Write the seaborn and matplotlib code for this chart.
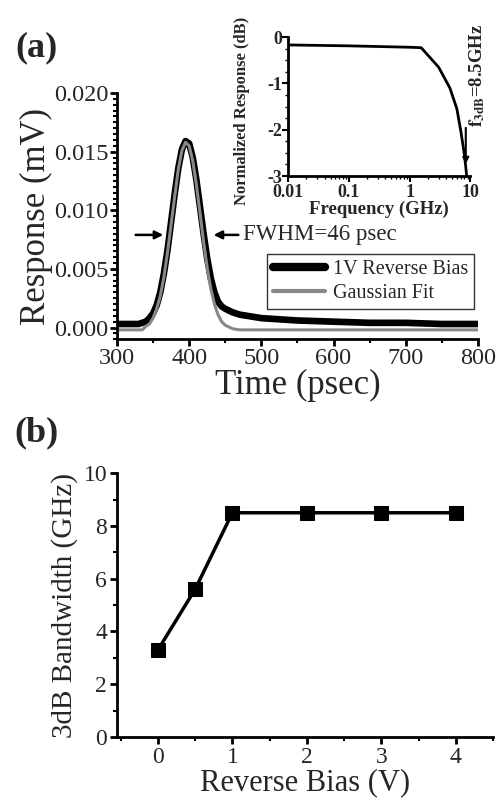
import numpy as np
import pandas as pd
import matplotlib
matplotlib.use('Agg')
import matplotlib.pyplot as plt
from matplotlib.ticker import MultipleLocator, LogLocator, NullFormatter
import seaborn as sns

# (a) pulse response
time_ps = [300, 310, 320, 330, 335, 340, 345, 350, 355, 360, 365, 370, 375, 380, 385,
           390, 395, 400, 405, 410, 415, 420, 425, 430, 435, 440, 445, 450, 460, 470,
           480, 500, 550, 600, 650, 700, 750, 800]
measured = [0.0003, 0.0003, 0.0003, 0.0003, 0.0004, 0.0005, 0.0008, 0.0012, 0.0019, 0.0030,
            0.0046, 0.0066, 0.0090, 0.0114, 0.0136, 0.0152, 0.0159, 0.0157, 0.0145, 0.0126,
            0.0103, 0.0080, 0.0059, 0.0042, 0.0030, 0.0022, 0.0018, 0.0016, 0.0013, 0.0011,
            0.0010, 0.0008, 0.0006, 0.0005, 0.0004, 0.0004, 0.0003, 0.0003]
gauss_fit = [-0.0002, -0.0002, -0.0002, -0.0002, -0.0002, 0.0001, 0.0003, 0.0008, 0.0016, 0.0027,
             0.0043, 0.0064, 0.0088, 0.0112, 0.0135, 0.0151, 0.0158, 0.0155, 0.0142, 0.0122,
             0.0098, 0.0073, 0.0051, 0.0033, 0.0020, 0.0011, 0.0005, 0.0002, -0.0001, -0.0002,
             -0.0002, -0.0002, -0.0002, -0.0002, -0.0002, -0.0002, -0.0002, -0.0002]

# inset: normalized frequency response
freq_ghz = [0.01, 0.1, 1.0, 1.55, 3.0, 4.6, 6.0, 7.0, 8.0, 8.7]
norm_resp = [-0.17, -0.19, -0.22, -0.23, -0.65, -1.1, -1.55, -2.05, -2.55, -3.0]

# (b) bandwidth vs bias
bias_v = [0, 0.5, 1, 2, 3, 4]
bandwidth_ghz = [3.3, 5.6, 8.5, 8.5, 8.5, 8.5]

pulse = pd.DataFrame({'t': time_ps, 'meas': measured, 'fit': gauss_fit})
inset_df = pd.DataFrame({'f': freq_ghz, 'r': norm_resp})
bw = pd.DataFrame({'v': bias_v, 'bw': bandwidth_ghz})

sns.set_style('ticks')
plt.rcParams['font.family'] = ['Liberation Serif', 'DejaVu Serif']
plt.rcParams['mathtext.fontset'] = 'stix'
plt.rcParams['axes.linewidth'] = 2
plt.rcParams['axes.edgecolor'] = 'black'

fig = plt.figure(figsize=(5.02, 8.02), dpi=100)

# ---- panel (a)
ax = fig.add_axes([0.233, 0.577, 0.719, 0.307])
sns.lineplot(data=pulse, x='t', y='meas', ax=ax, color='black', lw=4.8,
             label='1V Reverse Bias')
sns.lineplot(data=pulse, x='t', y='fit', ax=ax, color='#888888', lw=2.2,
             label='Gaussian Fit')
ax.set_xlim(300, 800)
ax.set_ylim(-0.001, 0.020)
ax.set_xticks([300, 400, 500, 600, 700, 800])
ax.set_yticks([0.0, 0.005, 0.010, 0.015, 0.020])
ax.set_yticklabels(['0.000', '0.005', '0.010', '0.015', '0.020'])
ax.xaxis.set_minor_locator(MultipleLocator(50))
ax.yaxis.set_minor_locator(MultipleLocator(0.0005))
ax.tick_params(which='major', labelsize=17.5, length=5, width=2, pad=1, color='black')
ax.tick_params(which='minor', length=3, width=1.5, color='black')
ax.set_xlabel('Time (psec)', fontsize=25, labelpad=0)
ax.set_ylabel('Response (mV)', fontsize=25, labelpad=1)
sns.despine(ax=ax)

leg = ax.legend(loc='upper right', bbox_to_anchor=(0.99, 0.345), fontsize=14.5,
                frameon=True, fancybox=False, handlelength=2.6, borderpad=0.3,
                labelspacing=0.2, handletextpad=0.4, borderaxespad=0)
leg.get_frame().set_edgecolor('black')
leg.get_frame().set_linewidth(1)
for h, w in zip(leg.get_lines(), [6, 3]):
    h.set_linewidth(w)

arrow_y = 0.0079
ax.annotate('', xy=(368, arrow_y), xytext=(322, arrow_y),
            arrowprops=dict(arrowstyle='-|>', color='black', lw=1.8, mutation_scale=12))
ax.annotate('', xy=(430, arrow_y), xytext=(472, arrow_y),
            arrowprops=dict(arrowstyle='-|>', color='black', lw=1.8, mutation_scale=12))
ax.text(474, arrow_y, 'FWHM=46 psec', fontsize=16.5, va='center', ha='left')

# ---- inset
axi = fig.add_axes([0.574, 0.7805, 0.363, 0.1733])
sns.lineplot(data=inset_df, x='f', y='r', ax=axi, color='black', lw=2)
axi.set_xscale('log')
axi.set_xlim(0.01, 10)
axi.set_ylim(-3, 0)
axi.set_xticks([0.01, 0.1, 1, 10])
axi.set_xticklabels(['0.01', '0.1', '1', '10'])
axi.set_yticks([-3, -2, -1, 0])
axi.set_yticklabels(['-3', '-2', '-1', '0'])
axi.xaxis.set_minor_locator(LogLocator(base=10, subs=np.arange(2, 10)))
axi.xaxis.set_minor_formatter(NullFormatter())
axi.yaxis.set_minor_locator(MultipleLocator(0.25))
axi.tick_params(which='major', labelsize=13, length=4, width=1.5, pad=0, color='black')
axi.tick_params(axis='x', which='major', pad=1.5)
axi.tick_params(which='minor', length=2, width=1, color='black')
for lab in axi.get_xticklabels() + axi.get_yticklabels():
    lab.set_fontweight('bold')
axi.set_xlabel('Frequency (GHz)', fontsize=13.5, fontweight='bold', labelpad=0)
axi.set_ylabel('Normalized Response (dB)', fontsize=12, fontweight='bold')
axi.yaxis.set_label_coords(-0.21, 0.47)
sns.despine(ax=axi)
axi.annotate('', xy=(8.4, -2.8), xytext=(8.4, -1.9),
             arrowprops=dict(arrowstyle='-|>', color='black', lw=1.5, mutation_scale=9))
axi.text(13.0, -1.95, r'$\mathbf{f}_{\mathbf{3dB}}$=8.5GHz', fontsize=13.5, fontweight='bold',
         rotation=90, ha='center', va='bottom', clip_on=False)

# ---- panel (b)
axb = fig.add_axes([0.233, 0.081, 0.749, 0.329])
sns.lineplot(data=bw, x='v', y='bw', ax=axb, color='black', lw=2.5, marker='s',
             markersize=10, markeredgecolor='black')
axb.set_xlim(-0.55, 4.5)
axb.set_ylim(0, 10)
axb.set_xticks([0, 1, 2, 3, 4])
axb.set_yticks([0, 2, 4, 6, 8, 10])
axb.xaxis.set_minor_locator(MultipleLocator(0.5))
axb.yaxis.set_minor_locator(MultipleLocator(1))
axb.tick_params(which='major', labelsize=17, length=5, width=2, pad=2, color='black')
axb.tick_params(which='minor', length=3, width=1.5, color='black')
axb.set_xlabel('Reverse Bias (V)', fontsize=22, labelpad=0)
axb.set_ylabel('3dB Bandwidth (GHz)', fontsize=21, labelpad=4)
sns.despine(ax=axb)

fig.text(0.030, 0.940, '(a)', fontsize=26, fontweight='bold', va='center', ha='left')
fig.text(0.028, 0.460, '(b)', fontsize=26, fontweight='bold', va='center', ha='left')

fig.savefig('out.png', dpi=100)
